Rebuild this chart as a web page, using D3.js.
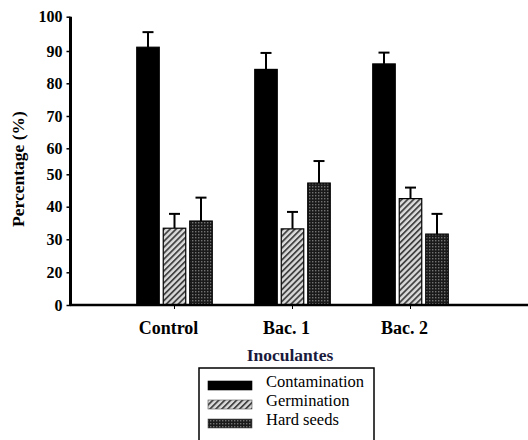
<!DOCTYPE html>
<html><head><meta charset="utf-8">
<script src="https://cdn.jsdelivr.net/npm/d3@7"></script>
<style>body{margin:0;background:#fff}svg{display:block}</style>
</head><body>
<svg id="c" width="528" height="440"></svg>
<script>
const categories = ["Control", "Bac. 1", "Bac. 2"];
const seriesNames = ["Contamination", "Germination", "Hard seeds"];
const contamination = [91.1, 84.3, 86.0];
const contaminationErr = [4.4, 5.1, 3.5];
const germination = [33.4, 33.2, 42.5];
const germinationErr = [4.4, 5.2, 3.4];
const hardSeeds = [35.6, 47.3, 31.6];
const hardSeedsErr = [7.2, 7.8, 6.2];
const yTicks = [0, 20, 30, 40, 50, 60, 70, 80, 90, 100];
const xTitle = "Inoculantes";
const yTitle = "Percentage (%)";

const svg = d3.select("#c");
const font = "'Liberation Serif','Times New Roman',serif";

// the printed axis is irregular: tick labels sit at these positions
const y = d3.scaleLinear().domain(yTicks)
  .range([305, 272.3, 239.3, 206.7, 174.3, 148.3, 116, 83.3, 51, 16.7]);
const x = d3.scaleBand().domain(categories).range([115.5, 469.5]).padding(0);
const xs = d3.scaleBand().domain(seriesNames).range([-37.75, 37.75]).paddingInner(0.151).paddingOuter(0);

const defs = svg.append("defs");
const hatch = defs.append("pattern").attr("id", "hatch").attr("patternUnits", "userSpaceOnUse")
  .attr("width", 4.2).attr("height", 4.2).attr("patternTransform", "rotate(45)");
hatch.append("rect").attr("width", 4.2).attr("height", 4.2).attr("fill", "#dadada");
hatch.append("rect").attr("width", 1.8).attr("height", 4.2).attr("fill", "#444");
const check = defs.append("pattern").attr("id", "check").attr("patternUnits", "userSpaceOnUse")
  .attr("width", 3).attr("height", 3);
check.append("rect").attr("width", 3).attr("height", 3).attr("fill", "#1a1a1a");
check.append("rect").attr("width", 1.4).attr("height", 1.4).attr("fill", "#727272");

const fills = { "Contamination": "#000", "Germination": "url(#hatch)", "Hard seeds": "url(#check)" };
const series = [
  { name: "Contamination", vals: contamination, errs: contaminationErr },
  { name: "Germination", vals: germination, errs: germinationErr },
  { name: "Hard seeds", vals: hardSeeds, errs: hardSeedsErr }
];
const bars = [];
series.forEach(s => categories.forEach((c, i) => bars.push({ s: s.name, c, v: s.vals[i], e: s.errs[i] })));

const bw = xs.bandwidth();
const cx = d => x(d.c) + x.bandwidth() / 2 + xs(d.s) + bw / 2;

// error bars (upper only)
const eb = svg.append("g").attr("stroke", "#000").attr("stroke-width", 2);
eb.selectAll("line.v").data(bars).join("line").attr("class", "v")
  .attr("x1", cx).attr("x2", cx).attr("y1", d => y(d.v)).attr("y2", d => y(d.v + d.e));
eb.selectAll("line.h").data(bars).join("line").attr("class", "h")
  .attr("x1", d => cx(d) - 5.5).attr("x2", d => cx(d) + 5.5)
  .attr("y1", d => y(d.v + d.e)).attr("y2", d => y(d.v + d.e));

svg.append("g").selectAll("rect").data(bars).join("rect")
  .attr("x", d => cx(d) - bw / 2).attr("width", bw)
  .attr("y", d => y(d.v)).attr("height", d => y(0) - y(d.v))
  .attr("fill", d => fills[d.s]).attr("stroke", "#000").attr("stroke-width", 1.2);

// axes
const yAxis = svg.append("g").attr("transform", "translate(70.5,0)")
  .call(d3.axisLeft(y).tickValues(yTicks).tickSize(4).tickPadding(4).tickFormat(d3.format("d")));
yAxis.attr("font-family", font);
yAxis.select(".domain").attr("stroke-width", 3).attr("d", `M0,${y(100)}V${y(0)}`);
yAxis.selectAll(".tick line").attr("stroke-width", 1.5);
yAxis.selectAll(".tick text").style("font-family", font).style("font-weight", "bold")
  .style("font-size", "16px").attr("fill", "#000");

const xAxis = svg.append("g").attr("transform", `translate(0,${y(0)})`)
  .call(d3.axisBottom(x).tickSize(4).tickPadding(12));
xAxis.attr("font-family", font);
xAxis.select(".domain").attr("stroke-width", 2.5).attr("d", "M70,0H528");
xAxis.selectAll(".tick line").attr("stroke-width", 1);
xAxis.selectAll(".tick text").style("font-family", font).style("font-weight", "bold")
  .style("font-size", "18px").attr("fill", "#000").attr("dx", -6);

svg.append("text").attr("x", 290).attr("y", 361).attr("text-anchor", "middle")
  .style("font-family", font).style("font-weight", "bold").style("font-size", "17.5px")
  .attr("fill", "#1a1a3c").text(xTitle);
svg.append("text").attr("transform", "translate(24,169) rotate(-90)").attr("text-anchor", "middle")
  .style("font-family", font).style("font-weight", "bold").style("font-size", "17.5px")
  .attr("fill", "#000").text(yTitle);

// legend
const lg = svg.append("g");
lg.append("rect").attr("x", 199).attr("y", 368).attr("width", 175).attr("height", 80)
  .attr("fill", "none").attr("stroke", "#000").attr("stroke-width", 1.5);
const ly = d3.scalePoint().domain(seriesNames).range([385.5, 423.5]);
lg.selectAll("rect.sw").data(seriesNames).join("rect").attr("class", "sw")
  .attr("x", 208).attr("width", 44).attr("y", d => ly(d) - 4.5).attr("height", 9)
  .attr("fill", d => fills[d]).attr("stroke", d => d === "Contamination" ? "#000" : "#555")
  .attr("stroke-width", 0.6);
lg.selectAll("text").data(seriesNames).join("text")
  .attr("x", 266).attr("y", d => ly(d)).attr("dy", "0.1em")
  .style("font-family", font).style("font-size", "16.5px").attr("fill", "#000").text(d => d);
</script>
</body></html>
